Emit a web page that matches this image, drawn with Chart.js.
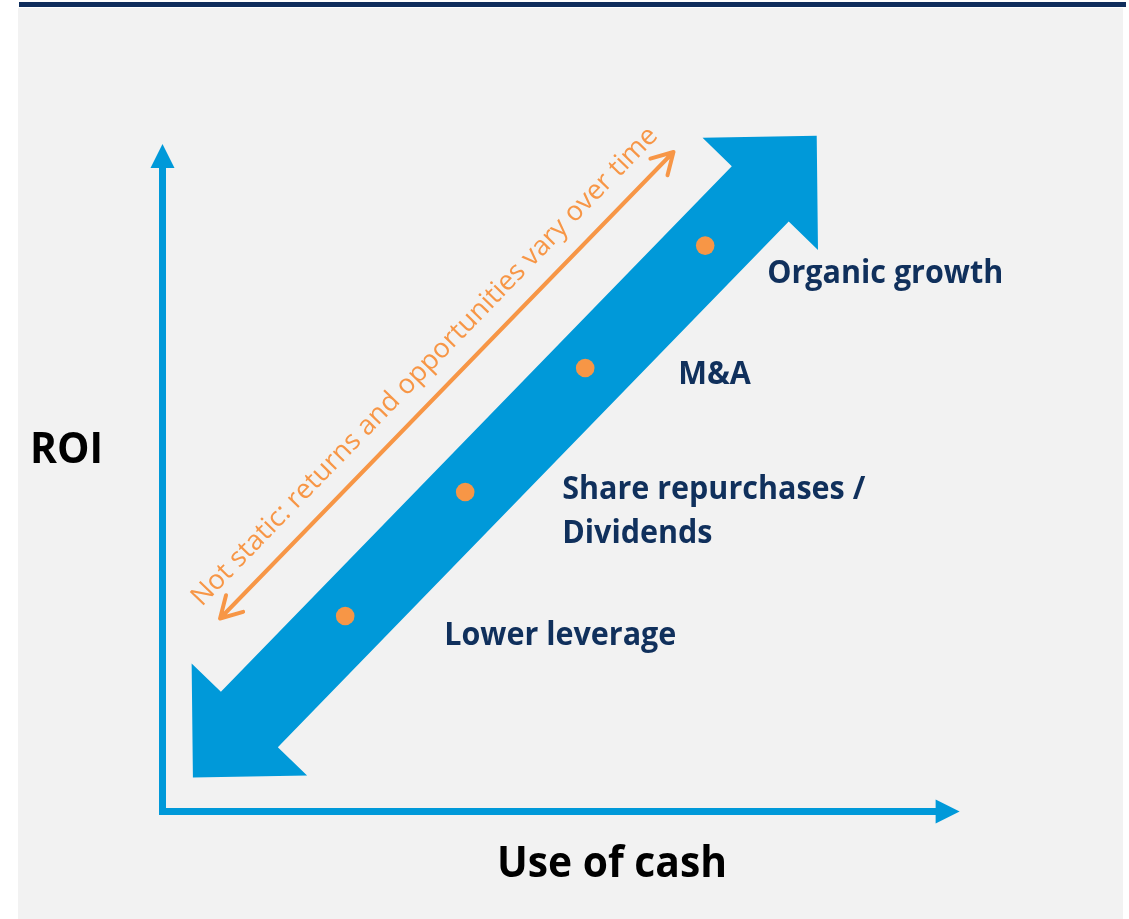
<!DOCTYPE html>
<html lang="en">
<head>
    <meta charset="UTF-8">
    <title>ROI vs Use of cash</title>
    <script src="https://cdn.jsdelivr.net/npm/chart.js"></script>
    <style>
        html, body { margin: 0; padding: 0; background: #ffffff; }
        canvas { display: block; }
    </style>
</head>
<body>
    <canvas id="roiChart" width="1129" height="919"></canvas>

    <script>
        // Data (axes run 0..100, no units on the original)
        const categories = ['Lower leverage', 'Share repurchases /\nDividends', 'M&A', 'Organic growth'];
        const useOfCash = [22.9, 37.9, 52.9, 67.9];
        const roi = [24.5, 40.0, 55.5, 70.8];
        const axisTitles = { x: 'Use of cash', y: 'ROI' };
        const noteText = 'Not static: returns and opportunities vary over time';

        // Styles
        const BLUE = '#0099d9';
        const ORANGE = '#f79646';
        const NAVY = '#10305c';
        const labelOffsets = [[99, 29], [97, 7], [93, 16], [62, 37]];

        function fitText(ctx, text, x, y, targetWidth) {
            const w = ctx.measureText(text).width;
            ctx.save();
            ctx.translate(x, y);
            ctx.scale(targetWidth / w, 1);
            ctx.fillText(text, 0, 0);
            ctx.restore();
        }

        function add(p, v, k) { return { x: p.x + v.x * k, y: p.y + v.y * k }; }

        const diagram = {
            id: 'diagram',
            beforeDraw(chart) {
                const { ctx, width, height } = chart;
                ctx.save();
                ctx.fillStyle = '#ffffff';
                ctx.fillRect(0, 0, width, height);
                ctx.fillStyle = '#f2f2f2';
                ctx.fillRect(18, 8, 1105, height - 8);
                ctx.fillStyle = '#0f2d5c';
                ctx.fillRect(19, 2, 1107, 5);
                ctx.restore();
            },
            beforeDatasetsDraw(chart) {
                const { ctx, scales: { x, y } } = chart;
                const x0 = x.getPixelForValue(0) + 0.5;
                const y0 = y.getPixelForValue(0) - 0.5;

                ctx.save();
                // axes
                ctx.fillStyle = BLUE;
                const yTip = y.getPixelForValue(83.5);
                ctx.fillRect(x0 - 3.5, yTip + 23, 7, y0 - yTip - 23 + 3.5);
                ctx.beginPath();
                ctx.moveTo(x0, yTip);
                ctx.lineTo(x0 - 12, yTip + 24);
                ctx.lineTo(x0 + 12, yTip + 24);
                ctx.closePath();
                ctx.fill();

                const xTip = x.getPixelForValue(99.7);
                ctx.fillRect(x0 - 3.5, y0 - 3.5, xTip - 23 - x0 + 3.5, 7);
                ctx.beginPath();
                ctx.moveTo(xTip, y0);
                ctx.lineTo(xTip - 24, y0 - 12);
                ctx.lineTo(xTip - 24, y0 + 12);
                ctx.closePath();
                ctx.fill();

                // trend through the points
                const n0 = useOfCash.length - 1;
                const p1 = { x: x.getPixelForValue(useOfCash[0]), y: y.getPixelForValue(roi[0]) };
                const p4 = { x: x.getPixelForValue(useOfCash[n0]), y: y.getPixelForValue(roi[n0]) };
                const len = Math.hypot(p4.x - p1.x, p4.y - p1.y);
                const u = { x: (p4.x - p1.x) / len, y: (p4.y - p1.y) / len };
                const n = { x: -u.y, y: u.x };

                // big double-headed arrow
                const T = add(add(p1, u, -222), n, 3.4);
                const H = add(add(p4, u, 156.5), n, 3.4);
                const L = 81, W = 80.5, w = 39.7;
                const pts = [
                    H,
                    add(add(H, u, -L), n, W),
                    add(add(H, u, -L), n, w),
                    add(add(T, u, L), n, w),
                    add(add(T, u, L), n, W),
                    T,
                    add(add(T, u, L), n, -W),
                    add(add(T, u, L), n, -w),
                    add(add(H, u, -L), n, -w),
                    add(add(H, u, -L), n, -W)
                ];
                ctx.fillStyle = BLUE;
                ctx.beginPath();
                pts.forEach((p, i) => i ? ctx.lineTo(p.x, p.y) : ctx.moveTo(p.x, p.y));
                ctx.closePath();
                ctx.fill();

                // orange double arrow
                const A = add(add(p1, u, -89), n, -88);
                const B = add(add(p4, u, 45), n, -88);
                ctx.strokeStyle = ORANGE;
                ctx.lineWidth = 4;
                ctx.lineCap = 'round';
                ctx.lineJoin = 'round';
                ctx.beginPath();
                ctx.moveTo(A.x, A.y);
                ctx.lineTo(B.x, B.y);
                const ang = Math.atan2(u.y, u.x);
                [[B, ang + Math.PI], [A, ang]].forEach(([tip, back]) => {
                    [-0.52, 0.52].forEach(da => {
                        ctx.moveTo(tip.x, tip.y);
                        ctx.lineTo(tip.x + Math.cos(back + da) * 24, tip.y + Math.sin(back + da) * 24);
                    });
                });
                ctx.stroke();

                // note along the orange arrow
                const mid = add({ x: (A.x + B.x) / 2, y: (A.y + B.y) / 2 }, n, -21);
                ctx.translate(mid.x, mid.y);
                ctx.rotate(ang);
                ctx.fillStyle = ORANGE;
                ctx.font = '27px "Open Sans"';
                ctx.textAlign = 'left';
                ctx.textBaseline = 'alphabetic';
                fitText(ctx, noteText, -330, 0, 656);
                ctx.restore();
            },
            afterDatasetsDraw(chart) {
                const { ctx, scales: { x, y } } = chart;
                ctx.save();
                ctx.textAlign = 'left';
                ctx.textBaseline = 'alphabetic';
                ctx.fillStyle = NAVY;
                ctx.font = 'bold 32px "Open Sans"';
                const squeeze = 236 / ctx.measureText('Organic growth').width;
                categories.forEach((label, i) => {
                    const px = x.getPixelForValue(useOfCash[i]) + labelOffsets[i][0];
                    const py = y.getPixelForValue(roi[i]) + labelOffsets[i][1];
                    label.split('\n').forEach((line, j) => {
                        const lw = ctx.measureText(line).width;
                        fitText(ctx, line, px, py + j * 44, lw * squeeze);
                    });
                });

                ctx.fillStyle = '#000000';
                ctx.font = 'bold 43px "Open Sans"';
                fitText(ctx, axisTitles.y, 30, 463, 73);
                fitText(ctx, axisTitles.x, 497, 877, 230);
                ctx.restore();
            }
        };

        const chart = new Chart(document.getElementById('roiChart'), {
            type: 'scatter',
            data: {
                labels: categories,
                datasets: [{
                    data: useOfCash.map((v, i) => ({ x: v, y: roi[i] })),
                    backgroundColor: ORANGE,
                    borderWidth: 0,
                    pointRadius: 9.3,
                    pointHoverRadius: 9.3
                }]
            },
            options: {
                responsive: false,
                animation: false,
                devicePixelRatio: 1,
                layout: { padding: { left: 162, right: 167, top: 12, bottom: 107 } },
                plugins: { legend: { display: false }, tooltip: { enabled: false } },
                scales: {
                    x: { type: 'linear', min: 0, max: 100, display: false },
                    y: { type: 'linear', min: 0, max: 100, display: false }
                }
            },
            plugins: [diagram]
        });
    </script>
</body>
</html>
